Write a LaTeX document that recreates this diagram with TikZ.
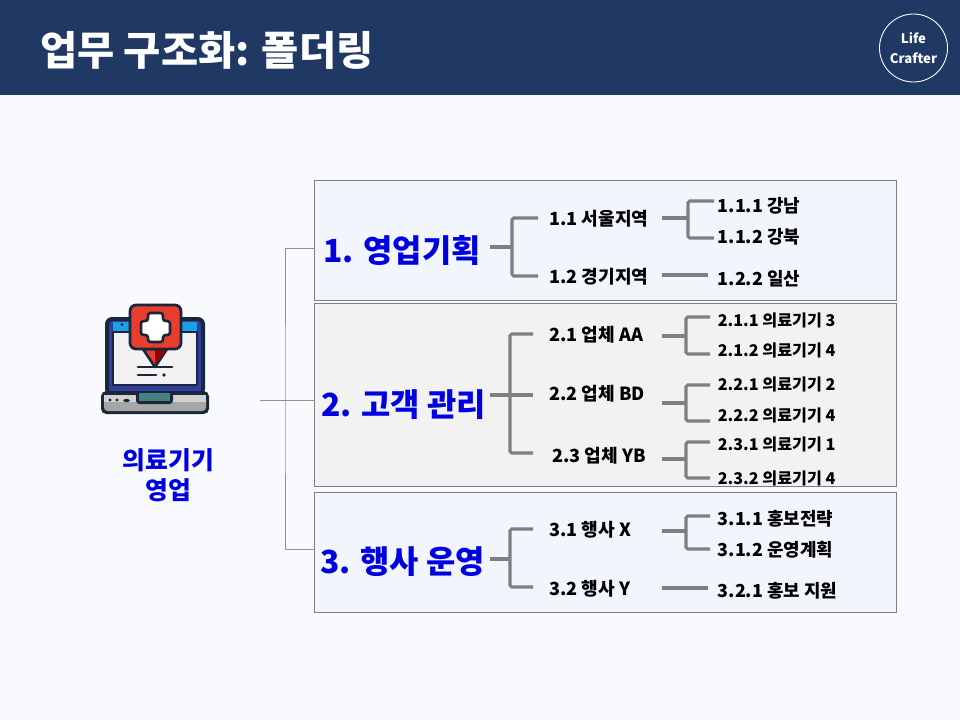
\documentclass[tikz,border=0pt]{standalone}
\usepackage{fontspec}
\setmainfont{Noto Sans CJK KR}
\usetikzlibrary{positioning}
\definecolor{qnavy}{RGB}{31,56,100}
\definecolor{qpage}{RGB}{248,250,253}
\definecolor{qpanela}{RGB}{242,246,252}
\definecolor{qpanelb}{RGB}{242,242,242}
\definecolor{qblue}{RGB}{0,0,225}
\definecolor{qbar}{RGB}{127,127,127}
\definecolor{qink}{RGB}{26,38,58}
\definecolor{qred}{RGB}{232,62,48}
\definecolor{qscreen}{RGB}{48,62,160}
\definecolor{qsky}{RGB}{26,160,235}
\tikzset{
  panelbox/.style={draw=qbar,line width=0.5pt},
  headlabel/.style={anchor=west,inner sep=0pt,text=qblue,font=\bfseries\fontsize{18.1}{22}\selectfont},
  sublabel/.style={anchor=west,inner sep=0pt,font=\bfseries\fontsize{10.3}{12}\selectfont},
  leaflabel/.style={anchor=west,inner sep=0pt,font=\bfseries\fontsize{10.2}{12}\selectfont},
  smalllabel/.style={anchor=west,inner sep=0pt,font=\bfseries\fontsize{9.2}{11}\selectfont},
  barline/.style={draw=qbar,line width=1.8pt,rounded corners=1pt},
  thinline/.style={draw=qbar!85,line width=0.5pt},
}

\begin{document}
\begin{tikzpicture}[x=0.02cm,y=-0.02cm]

\useasboundingbox (0,0) rectangle (960,720);
\fill[qpage] (0,0) rectangle (960,720);
\fill[qnavy] (0,0) rectangle (960,95);

\node[anchor=west,inner sep=0pt,text=white,font=\bfseries\fontsize{23}{27}\selectfont] (title) at (40,50) {업무 구조화: 폴더링};
\node[circle,draw=white,line width=0.5pt,minimum size=1.36cm,inner sep=0pt,align=center,text=white,
  font=\bfseries\fontsize{7.5}{11}\selectfont] (logo) at (913.5,48) {Life\\Crafter};

% panels
\fill[qpanela] (314,180) rectangle (896,300);
\draw[panelbox] (314,180) rectangle (896,300);
\fill[qpanelb] (314,303) rectangle (896,486);
\fill[qpanela] (314,492) rectangle (896,612);
\draw[panelbox] (314,492) rectangle (896,612);

% laptop icon
\fill[qink,rounded corners=4pt] (105,317) rectangle (205,396);
\fill[qscreen,rounded corners=2pt] (109,321) rectangle (201,393);
\fill[qsky] (113,322) rectangle (197,331);
\fill[qink] (122,324.5) circle (1.6);
\draw[qink,line width=1.5pt,fill=white!95!black] (113,332) rectangle (197,385);
\fill[qink,rounded corners=3pt] (101,391) rectangle (209,414);
\fill[gray!70,rounded corners=2pt] (104,395) rectangle (206,411);
\fill[gray!35] (104,395) rectangle (206,402);
\fill[qink,rounded corners=2pt] (136,392) rectangle (173,404);
\fill[teal!45!gray] (139,393) rectangle (170,401);
\fill[qink] (110,400) circle (1.6) (117,400) circle (1.6);
\fill[qink,rounded corners=1pt] (123,399) rectangle (130,402);
\draw[qink,line width=1.5pt,fill=qred,line join=round] (143,349) -- (155,367) -- (167,349) -- cycle;
\fill[red!60!black] (155,350) -- (155,365) -- (166,350) -- cycle;
\draw[qink,line width=1.6pt,fill=qred,rounded corners=3.5pt] (130,305) rectangle (181,349);
\draw[qink,line width=1.5pt,fill=white,rounded corners=1.5pt]
  (148,313) -- (163,313) -- (163,321) -- (170,321) -- (170,335) -- (163,335) -- (163,342) -- (148,342) -- (148,335) -- (141,335) -- (141,321) -- (148,321) -- cycle;
\draw[qink,line width=1.7pt,line cap=round] (138,367) -- (172,367);
\draw[qink,line width=1.7pt,line cap=round] (138,375) -- (156,375);
\fill[qink] (164,375) circle (1.8);

\node[inner sep=0pt,align=center,text=qblue,font=\bfseries\fontsize{14.1}{17}\selectfont] (root) at (168.5,475) {의료기기\\영업};

% root connector
\coordinate (rootstem) at (260,400);
\coordinate (rootbar) at (285,400);
\coordinate (panelmid) at (314,400);
\coordinate (paneltop) at (314,248);
\coordinate (panelbot) at (314,549);
\draw[thinline] (rootstem) -- (panelmid);
\draw[thinline] (paneltop) -| (rootbar) |- (panelbot);

% headings
\node[headlabel] (headA) at (323,251) {1. 영업기획};
\node[headlabel] (headB) at (321,405) {2. 고객 관리};
\node[headlabel] (headC) at (320,562) {3. 행사 운영};

% second level
\foreach \nm/\x/\y/\txt in {
  s11/549/219/1.1 서울지역, s12/549/277/1.2 경기지역,
  s21/549/335/2.1 업체 AA, s22/549/394/2.2 업체 BD, s23/552/456/2.3 업체 YB,
  s31/549/530/3.1 행사 X, s32/549/589/3.2 행사 Y}{
  \node[sublabel] (\nm) at (\x,\y) {\txt};
}

% third level
\foreach \nm/\y/\txt in {
  l111/206/1.1.1 강남, l112/237/1.1.2 강북, l122/279/1.2.2 일산,
  l311/519/3.1.1 홍보전략, l312/550/3.1.2 운영계획, l321/591/3.2.1 홍보 지원}{
  \node[leaflabel] (\nm) at (717.5,\y) {\txt};
}
\foreach \nm/\y/\txt in {
  l211/320/2.1.1 의료기기 3, l212/350/2.1.2 의료기기 4,
  l221/384/2.2.1 의료기기 2, l222/415/2.2.2 의료기기 4,
  l231/444/2.3.1 의료기기 1, l232/478/2.3.2 의료기기 4}{
  \node[smalllabel] (\nm) at (717.5,\y) {\txt};
}

% brackets: name / stem start / bar / branch end / stem y / top y / bottom y
\foreach \nm/\xs/\xb/\xe/\ym/\yt/\yd in {
  b1/490/512/538/247/218/276,
  b2/490/510/533/395/334/453,
  b3/490/510/533/559/529/587,
  b11/662/688/714/218/201/238,
  b21/662/686/710/336/317/354,
  b22/662/686/710/403/385/421,
  b23/662/686/710/459/442/478,
  b31/662/686/710/531/516/549}{
  \coordinate (\nm s) at (\xs,\ym);
  \coordinate (\nm j) at (\xb,\ym);
  \coordinate (\nm t) at (\xe,\yt);
  \coordinate (\nm d) at (\xe,\yd);
  \draw[barline] (\nm s) -- (\nm j);
  \draw[barline] (\nm t) -| (\nm j) |- (\nm d);
}
\coordinate (b2m) at (533,395);
\draw[barline] (b2j) -- (b2m);

% straight links
\coordinate (c12s) at (662,275);
\coordinate (c12e) at (708,275);
\coordinate (c32s) at (662,588);
\coordinate (c32e) at (708,588);
\draw[barline] (c12s) -- (c12e);
\draw[barline] (c32s) -- (c32e);

\draw[panelbox] (314,303) rectangle (896,486);

\end{tikzpicture}
\end{document}
